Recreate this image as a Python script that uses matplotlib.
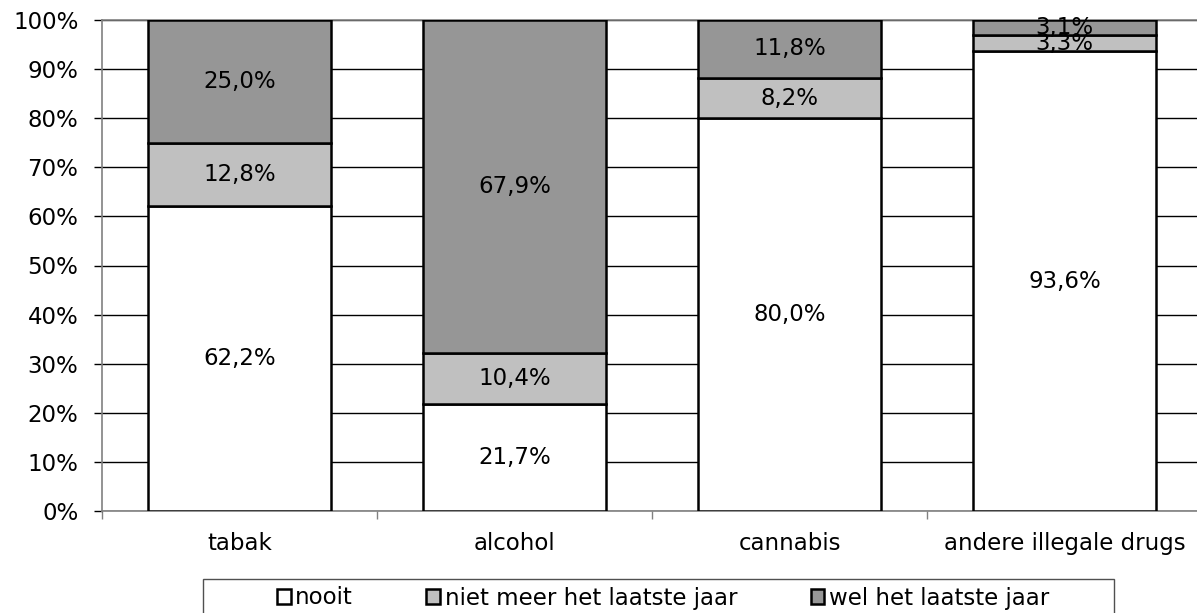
import matplotlib
matplotlib.use("Agg")
import matplotlib.pyplot as plt
from matplotlib.patches import Patch, Rectangle
from matplotlib.ticker import FuncFormatter, MultipleLocator

categories = ["tabak", "alcohol", "cannabis", "andere illegale drugs"]
series_names = ["nooit", "niet meer het laatste jaar", "wel het laatste jaar"]
nooit = [62.2, 21.7, 80.0, 93.6]
niet_meer = [12.8, 10.4, 8.2, 3.3]
wel = [25.0, 67.9, 11.8, 3.1]
colors = ["#ffffff", "#c0c0c0", "#969696"]

plt.rcParams['font.family'] = ['DejaVu Sans']
FS = 16.5

W, H = 1197, 613
fig = plt.figure(figsize=(W/100, H/100), dpi=100)
ax = fig.add_axes([102/W, 1-511/H, 1100/W, (511-20)/H])

x = list(range(len(categories)))
series = [nooit, niet_meer, wel]
bottoms = [0.0]*len(categories)
for vals, col, name in zip(series, colors, series_names):
    ax.bar(x, vals, width=0.665, bottom=bottoms, color=col,
           edgecolor="black", linewidth=1.8, zorder=3, label=name)
    for xi, v, b in zip(x, vals, bottoms):
        ax.text(xi, b + v/2, f"{v:.1f}".replace(".", ",") + "%",
                ha="center", va="center", fontsize=FS, zorder=4)
    bottoms = [b + v for b, v in zip(bottoms, vals)]

ax.set_xlim(-0.5, len(categories)-0.5)
ax.set_ylim(0, 100)
ax.yaxis.set_major_locator(MultipleLocator(10))
ax.yaxis.set_major_formatter(FuncFormatter(lambda v, p: f"{int(round(v))}%"))
ax.set_xticks(x)
ax.set_xticklabels(categories, fontsize=FS)
ax.tick_params(axis="x", length=0, pad=15)
ax.set_xticks([i + 0.5 for i in range(-1, len(categories))], minor=True)
ax.tick_params(axis="x", which="minor", length=6, color="#808080", width=1)
ax.tick_params(axis="y", labelsize=FS, length=6, width=1, color="black", pad=11)
ax.grid(axis="y", color="black", linewidth=1, zorder=0)
ax.set_axisbelow(True)
for s in ["top", "left", "bottom"]:
    ax.spines[s].set_color("#808080")
    ax.spines[s].set_linewidth(1.2)
ax.spines["right"].set_visible(False)

# legend frame (Excel-style, wide padding, cut by the image bottom)
frame = Rectangle((203/W, -0.05), (1114-203)/W, 0.05 + 1-579/H,
                  transform=fig.transFigure, facecolor="white",
                  edgecolor="#505050", linewidth=1, zorder=1)
fig.patches.append(frame)

handles = [Patch(facecolor=c, edgecolor="black", linewidth=1.8) for c in colors]
leg = fig.legend(handles, series_names, loc="center",
                 bbox_to_anchor=(663/W, 1-598/H), ncol=3, fontsize=FS,
                 frameon=False, handlelength=0.6, handleheight=0.6,
                 handletextpad=0.2, columnspacing=3.2, borderpad=0,
                 borderaxespad=0)
leg.set_zorder(2)

fig.savefig("out.png", dpi=100)
